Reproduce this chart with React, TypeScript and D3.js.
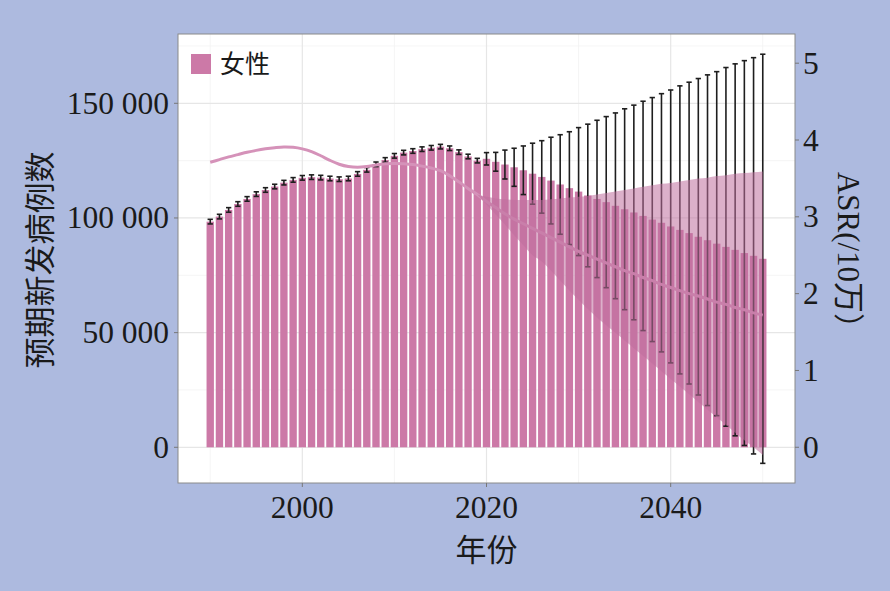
import * as d3 from "d3";
import { useEffect, useRef } from "react";

// years 1990-2019 observed, 2020-2050 projected
const years = d3.range(1990, 2051);

const cases = [
  98400, 100600, 103500, 106100, 108300, 110400, 112200, 113700, 115400, 116600,
  117500, 117800, 117600, 117200, 116900, 117200, 119200, 121000, 123400, 125300,
  127100, 128500, 129200, 130000, 130600, 131100, 130400, 128700, 126800, 125000,
  125800, 124500, 123300, 122100, 120800, 119300, 117900, 116300, 114600, 113000,
  111500, 109800, 108300, 106900, 105300, 103800, 102400, 100900, 99300, 97900,
  96300, 94800, 93400, 91800, 90300, 88800, 87400, 86100, 84700, 83500, 82200,
];

const casesLow = [
  97400, 99600, 102500, 105100, 107300, 109400, 111200, 112700, 114400, 115600,
  116500, 116800, 116600, 116200, 115900, 116200, 118200, 120000, 122400, 124300,
  126100, 127500, 128200, 129000, 129600, 130100, 129400, 127700, 125800, 124000,
  123100, 120400, 117000, 113800, 110200, 106000, 102100, 97400, 92900, 88400,
  83600, 78700, 74000, 69600, 64800, 60000, 55600, 50900, 46100, 41600,
  36800, 32000, 27600, 22800, 18200, 13800, 9200, 5000, 800, -2900, -7000,
];

const casesHigh = [
  99400, 101600, 104500, 107100, 109300, 111400, 113200, 114700, 116400, 117600,
  118500, 118800, 118600, 118200, 117900, 118200, 120200, 122000, 124400, 126300,
  128100, 129500, 130200, 131000, 131600, 132100, 131400, 129700, 127800, 126000,
  128500, 128600, 129600, 130400, 131400, 132600, 133700, 135200, 136300, 137600,
  139400, 140900, 142600, 144200, 145800, 147600, 149200, 150900, 152500, 154200,
  155800, 157600, 159200, 160800, 162400, 163800, 165600, 167200, 168600, 169900, 171400,
];

const asr = [
  3.71, 3.745, 3.78, 3.81, 3.84, 3.865, 3.885, 3.9, 3.91, 3.905,
  3.885, 3.85, 3.795, 3.735, 3.685, 3.655, 3.645, 3.655, 3.675, 3.69,
  3.695, 3.69, 3.68, 3.66, 3.635, 3.6, 3.535, 3.455, 3.37, 3.29,
  3.2, 3.12, 3.04, 2.97, 2.91, 2.85, 2.79, 2.73, 2.67, 2.61,
  2.55, 2.5, 2.45, 2.4, 2.35, 2.3, 2.26, 2.21, 2.17, 2.12,
  2.08, 2.04, 2.0, 1.97, 1.93, 1.89, 1.86, 1.82, 1.79, 1.75, 1.72,
];

const ribbonYears = d3.range(2019, 2051);
const asrLow = [
  3.29, 3.16, 3.03, 2.9, 2.76, 2.63, 2.5, 2.42, 2.3, 2.17, 2.04, 1.92, 1.8, 1.69,
  1.59, 1.49, 1.39, 1.29, 1.19, 1.09, 0.99, 0.89, 0.79, 0.69, 0.59, 0.49, 0.39,
  0.29, 0.19, 0.09, 0.0, -0.1,
];
const asrHigh = [
  3.29, 3.26, 3.24, 3.23, 3.22, 3.22, 3.22, 3.22, 3.23, 3.24, 3.25, 3.26, 3.27,
  3.29, 3.31, 3.33, 3.35, 3.37, 3.39, 3.41, 3.43, 3.44, 3.46, 3.48, 3.5, 3.51,
  3.53, 3.54, 3.56, 3.57, 3.58, 3.59,
];

const leftTicks = [0, 50000, 100000, 150000];
const leftMinor = [25000, 75000, 125000, 175000];
const rightTicks = [0, 1, 2, 3, 4, 5];
const xTicks = [2000, 2020, 2040];
const xMinor = [1990, 2010, 2030, 2050];

const W = 890,
  H = 591;
const serif = "'Liberation Serif', 'Times New Roman', serif";
const cjk = "'Liberation Serif', 'Noto Sans CJK SC', serif";

export default function App() {
  const ref = useRef<SVGSVGElement>(null);

  useEffect(() => {
    if (!ref.current) return;
    const svg = d3.select(ref.current);
    svg.selectAll("*").remove();

    const left = 178,
      right = 795,
      top = 34,
      bottom = 483;

    const x = d3.scaleLinear().domain([1986.5, 2053.5]).range([left, right]);
    const y = d3.scaleLinear().domain([-15570, 180220]).range([bottom, top]);
    const y2 = d3.scaleLinear().domain([-0.465, 5.38]).range([bottom, top]);
    const bw = (x(1991) - x(1990)) * 0.8;

    svg.append("rect").attr("width", W).attr("height", H).attr("fill", "#adbadf");
    svg
      .append("rect")
      .attr("x", left)
      .attr("y", top)
      .attr("width", right - left)
      .attr("height", bottom - top)
      .attr("fill", "white");

    // grid
    const grid = svg.append("g");
    leftMinor.forEach((v) =>
      grid.append("line").attr("x1", left).attr("x2", right)
        .attr("y1", y(v)).attr("y2", y(v))
        .attr("stroke", "#f2f2f2").attr("stroke-width", 0.8)
    );
    xMinor.forEach((v) =>
      grid.append("line").attr("y1", top).attr("y2", bottom)
        .attr("x1", x(v)).attr("x2", x(v))
        .attr("stroke", "#f2f2f2").attr("stroke-width", 0.8)
    );
    leftTicks.forEach((v) =>
      grid.append("line").attr("x1", left).attr("x2", right)
        .attr("y1", y(v)).attr("y2", y(v))
        .attr("stroke", "#e6e6e6").attr("stroke-width", 1.2)
    );
    xTicks.forEach((v) =>
      grid.append("line").attr("y1", top).attr("y2", bottom)
        .attr("x1", x(v)).attr("x2", x(v))
        .attr("stroke", "#e6e6e6").attr("stroke-width", 1.2)
    );

    // bars
    svg.append("g")
      .selectAll("rect")
      .data(years)
      .enter()
      .append("rect")
      .attr("x", (d) => x(d) - bw / 2)
      .attr("width", bw)
      .attr("y", (d, i) => y(cases[i]))
      .attr("height", (d, i) => y(0) - y(cases[i]))
      .attr("fill", "#cc79a7");

    // error bars
    const eb = svg.append("g").attr("stroke", "#1e1e1e").attr("stroke-width", 1.6);
    const cap = bw * 0.36;
    years.forEach((d, i) => {
      const cx = x(d);
      eb.append("line").attr("x1", cx).attr("x2", cx)
        .attr("y1", y(casesLow[i])).attr("y2", y(casesHigh[i]));
      [casesLow[i], casesHigh[i]].forEach((v) =>
        eb.append("line").attr("x1", cx - cap).attr("x2", cx + cap)
          .attr("y1", y(v)).attr("y2", y(v))
      );
    });

    // ASR line
    const line = d3
      .line<number>()
      .x((d) => x(d))
      .y((d, i) => y2(asr[i]))
      .curve(d3.curveCatmullRom);
    svg.append("path")
      .datum(years)
      .attr("d", line)
      .attr("fill", "none")
      .attr("stroke", "#d592b9")
      .attr("stroke-width", 3);

    // ASR ribbon
    const area = d3
      .area<number>()
      .x((d) => x(d))
      .y0((d, i) => y2(asrLow[i]))
      .y1((d, i) => y2(asrHigh[i]))
      .curve(d3.curveMonotoneX);
    svg.append("path")
      .datum(ribbonYears)
      .attr("d", area)
      .attr("fill", "#c0709f")
      .attr("fill-opacity", 0.55);

    // panel border
    svg.append("rect")
      .attr("x", left).attr("y", top)
      .attr("width", right - left).attr("height", bottom - top)
      .attr("fill", "none").attr("stroke", "#8a8a8a").attr("stroke-width", 1);

    // axes
    const ax = svg.append("g").attr("font-family", serif).attr("font-size", 31.5).attr("fill", "#1a1a1a");
    leftTicks.forEach((v) => {
      ax.append("line").attr("x1", left - 4).attr("x2", left)
        .attr("y1", y(v)).attr("y2", y(v)).attr("stroke", "#777");
      ax.append("text").attr("x", left - 9).attr("y", y(v))
        .attr("text-anchor", "end").attr("dominant-baseline", "central")
        .text(d3.format(",")(v).replace(/,/g, " "));
    });
    rightTicks.forEach((v) => {
      ax.append("line").attr("x1", right).attr("x2", right + 4)
        .attr("y1", y2(v)).attr("y2", y2(v)).attr("stroke", "#777");
      ax.append("text").attr("x", right + 8).attr("y", y2(v))
        .attr("dominant-baseline", "central")
        .text(String(v));
    });
    xTicks.forEach((v) => {
      ax.append("line").attr("x1", x(v)).attr("x2", x(v))
        .attr("y1", bottom).attr("y2", bottom + 4).attr("stroke", "#777");
      ax.append("text").attr("x", x(v)).attr("y", 518)
        .attr("text-anchor", "middle")
        .text(String(v));
    });

    // titles
    const tt = svg.append("g").attr("font-family", cjk).attr("font-size", 31).attr("fill", "#1a1a1a");
    tt.append("text").attr("x", (left + right) / 2).attr("y", 561)
      .attr("text-anchor", "middle").text("年份");
    tt.append("text")
      .attr("transform", "translate(40,260) rotate(-90)")
      .attr("text-anchor", "middle").attr("dominant-baseline", "central")
      .text("预期新发病例数");
    tt.append("text")
      .attr("transform", "translate(848,258) rotate(90)")
      .attr("text-anchor", "middle").attr("dominant-baseline", "central")
      .text("ASR(/10万）");

    // legend
    svg.append("rect").attr("x", 191).attr("y", 54).attr("width", 20).attr("height", 20)
      .attr("fill", "#cc79a7");
    svg.append("text").attr("x", 220).attr("y", 64)
      .attr("font-family", cjk).attr("font-size", 25).attr("fill", "#1a1a1a")
      .attr("dominant-baseline", "central").text("女性");
  }, []);

  return (
    <svg
      ref={ref}
      width={W}
      height={H}
      style={{ position: "absolute", left: 0, top: 0, display: "block" }}
    />
  );
}
